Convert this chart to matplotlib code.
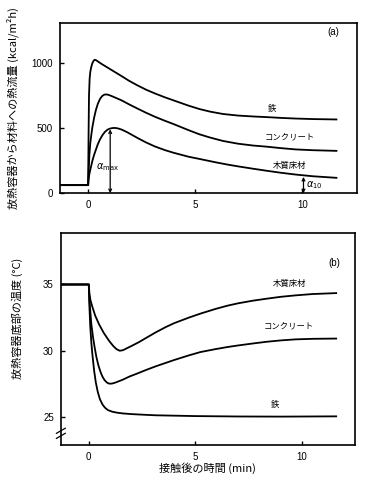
import matplotlib.pyplot as plt
from matplotlib import font_manager

# fontes
fonte_jp = ['Noto Sans CJK JP', 'DejaVu Sans']
nomes = [f.name for f in font_manager.fontManager.ttflist]
fonte_num = 'Liberation Sans Narrow' if 'Liberation Sans Narrow' in nomes else 'Liberation Sans'

# ---------------- dados (a) fluxo de calor (kcal/m2h) ----------------
t_a_ferro = [-1.3, 0, 0.02, 0.04, 0.07, 0.1, 0.14, 0.19, 0.25, 0.3, 0.36, 0.45, 0.6, 0.8, 1.0, 1.25, 1.57, 1.9, 2.3, 2.7, 3.13, 3.6, 4.0, 4.69, 5.2, 5.7, 6.3, 7.0, 7.7, 8.35, 9.0, 9.7, 10.5, 11.6]
q_ferro = [62, 62, 450, 750, 880, 930, 965, 995, 1015, 1024, 1022, 1012, 995, 975, 955, 930, 898, 864, 828, 795, 765, 735, 712, 672, 646, 626, 608, 596, 589, 584, 578, 573, 569, 566]

t_a_conc = [-1.3, 0, 0.03, 0.06, 0.1, 0.15, 0.2, 0.28, 0.36, 0.45, 0.55, 0.65, 0.76, 0.88, 1.0, 1.25, 1.57, 1.9, 2.3, 2.7, 3.13, 3.6, 4.0, 4.69, 5.2, 5.7, 6.3, 7.0, 7.7, 8.35, 9.0, 9.7, 10.5, 11.6]
q_conc = [62, 62, 200, 300, 385, 450, 509, 580, 637, 685, 722, 745, 757, 758, 752, 735, 712, 683, 650, 618, 586, 555, 530, 484, 452, 427, 401, 380, 366, 357, 346, 336, 330, 325]

t_a_mad = [-1.3, 0, 0.02, 0.06, 0.1, 0.15, 0.2, 0.28, 0.36, 0.45, 0.55, 0.67, 0.78, 0.9, 1.0, 1.13, 1.26, 1.4, 1.57, 1.8, 2.0, 2.35, 2.7, 3.13, 3.6, 4.0, 4.69, 5.23, 5.93, 6.5, 7.0, 7.7, 8.35, 9.0, 9.7, 10.5, 11.6]
q_mad = [62, 62, 110, 150, 180, 215, 250, 295, 333, 375, 412, 446, 470, 487, 495, 500, 501, 497, 488, 470, 452, 420, 390, 358, 330, 310, 280, 262, 238, 220, 206, 188, 172, 157, 143, 130, 118]

# ---------------- dados (b) temperatura (C) ----------------
t_b_mad = [-1.3, 0, 0.03, 0.08, 0.17, 0.3, 0.48, 0.7, 0.95, 1.15, 1.3, 1.45, 1.6, 1.8, 2.05, 2.35, 2.7, 3.13, 3.6, 4.0, 4.69, 5.23, 5.93, 6.5, 7.0, 7.7, 8.35, 9.0, 9.7, 10.5, 11.6]
T_mad = [35, 35, 34.3, 33.8, 33.3, 32.65, 32.0, 31.35, 30.75, 30.35, 30.12, 30.0, 30.04, 30.2, 30.4, 30.65, 30.98, 31.38, 31.78, 32.08, 32.5, 32.8, 33.15, 33.4, 33.58, 33.78, 33.93, 34.07, 34.18, 34.28, 34.35]

t_b_conc = [-1.3, 0, 0.03, 0.07, 0.12, 0.2, 0.28, 0.36, 0.45, 0.55, 0.64, 0.74, 0.85, 0.95, 1.08, 1.25, 1.57, 1.9, 2.3, 2.7, 3.13, 3.6, 4.0, 4.69, 5.23, 5.93, 6.5, 7.0, 7.7, 8.35, 9.0, 9.7, 10.5, 11.6]
T_conc = [35, 35, 33.8, 33.0, 32.0, 31.0, 30.2, 29.5, 28.9, 28.4, 28.05, 27.78, 27.6, 27.52, 27.52, 27.6, 27.8, 28.05, 28.3, 28.56, 28.82, 29.08, 29.3, 29.65, 29.9, 30.12, 30.28, 30.4, 30.55, 30.68, 30.78, 30.86, 30.9, 30.92]

t_b_ferro = [-1.3, 0, 0.03, 0.07, 0.12, 0.17, 0.25, 0.33, 0.42, 0.52, 0.64, 0.76, 0.9, 1.1, 1.35, 1.6, 2.0, 2.6, 3.13, 5.0, 7.0, 9.0, 11.6]
T_ferro = [35, 35, 33.3, 31.8, 30.6, 29.7, 28.5, 27.6, 26.9, 26.35, 25.95, 25.7, 25.52, 25.4, 25.32, 25.27, 25.22, 25.17, 25.13, 25.07, 25.04, 25.03, 25.05]

rotulos = ['鉄', 'コンクリート', '木質床材']

# ---------------- figura ----------------
fig = plt.figure(figsize=(3.78, 4.83), dpi=100)
ax_a = fig.add_axes([0.159, 0.600, 0.786, 0.352])
ax_b = fig.add_axes([0.161, 0.079, 0.778, 0.439])

lw = 1.3
ax_a.plot(t_a_ferro, q_ferro, color='black', lw=lw)
ax_a.plot(t_a_conc, q_conc, color='black', lw=lw)
ax_a.plot(t_a_mad, q_mad, color='black', lw=lw)

ax_b.plot(t_b_mad, T_mad, color='black', lw=lw)
ax_b.plot(t_b_conc, T_conc, color='black', lw=lw)
ax_b.plot(t_b_ferro, T_ferro, color='black', lw=lw)

# limites
ax_a.set_xlim(-1.31, 12.57)
ax_a.set_ylim(0, 1305)
ax_b.set_xlim(-1.31, 12.48)
ax_b.set_ylim(22.9, 38.9)

ax_a.set_xticks([0, 5, 10])
ax_a.set_yticks([0, 500, 1000])
ax_b.set_xticks([0, 5, 10])
ax_b.set_yticks([25, 30, 35])

for a in (ax_a, ax_b):
    a.tick_params(direction='in', length=3, width=1, labelsize=7, pad=5)
    for lab in a.get_xticklabels() + a.get_yticklabels():
        lab.set_family(fonte_num)
    for s in a.spines.values():
        s.set_linewidth(1.2)

# rotulos das curvas (a)
ax_a.text(8.6, 652, rotulos[0], family=fonte_jp, fontsize=6, ha='center', va='center')
ax_a.text(9.4, 430, rotulos[1], family=fonte_jp, fontsize=6, ha='center', va='center')
ax_a.text(9.4, 215, rotulos[2], family=fonte_jp, fontsize=6, ha='center', va='center')
ax_a.text(11.45, 1235, '(a)', family=fonte_num, fontsize=7, ha='center', va='center')

# setas alfa
ax_a.annotate('', xy=(1.03, 490), xytext=(1.03, 0),
              arrowprops=dict(arrowstyle='<->', lw=0.9, color='black', shrinkA=0, shrinkB=0, mutation_scale=5))
ax_a.text(0.9, 200, r'$\alpha_{\rm max}$', fontsize=7, ha='center', va='center')
ax_a.annotate('', xy=(10.06, 125), xytext=(10.06, 0),
              arrowprops=dict(arrowstyle='<->', lw=0.9, color='black', shrinkA=0, shrinkB=0, mutation_scale=5))
ax_a.text(10.2, 62, r'$\alpha_{10}$', fontsize=7, ha='left', va='center')

# rotulos das curvas (b)
ax_b.text(9.4, 35.05, rotulos[2], family=fonte_jp, fontsize=6, ha='center', va='center')
ax_b.text(9.4, 31.9, rotulos[1], family=fonte_jp, fontsize=6, ha='center', va='center')
ax_b.text(8.74, 25.95, rotulos[0], family=fonte_jp, fontsize=6, ha='center', va='center')
ax_b.text(11.5, 36.6, '(b)', family=fonte_num, fontsize=7, ha='center', va='center')

# marca de quebra do eixo
yq = (23.77 - 22.9) / (38.9 - 22.9)
for dy in (-0.012, 0.012):
    ax_b.plot([-0.015, 0.015], [yq + dy - 0.012, yq + dy + 0.012], transform=ax_b.transAxes,
              color='black', lw=0.9, clip_on=False)

# titulos dos eixos
fig.text(0.034, 0.776, '放熱容器から材料への熱流量 (kcal/m²h)', family=fonte_jp, fontsize=8,
         rotation=90, ha='center', va='center')
fig.text(0.045, 0.340, '放熱容器底部の温度 (°C)', family=fonte_jp, fontsize=8,
         rotation=90, ha='center', va='center')
fig.text(0.55, 0.031, '接触後の時間 (min)', family=fonte_jp, fontsize=8, ha='center', va='center')

plt.savefig('out.png', dpi=100)
